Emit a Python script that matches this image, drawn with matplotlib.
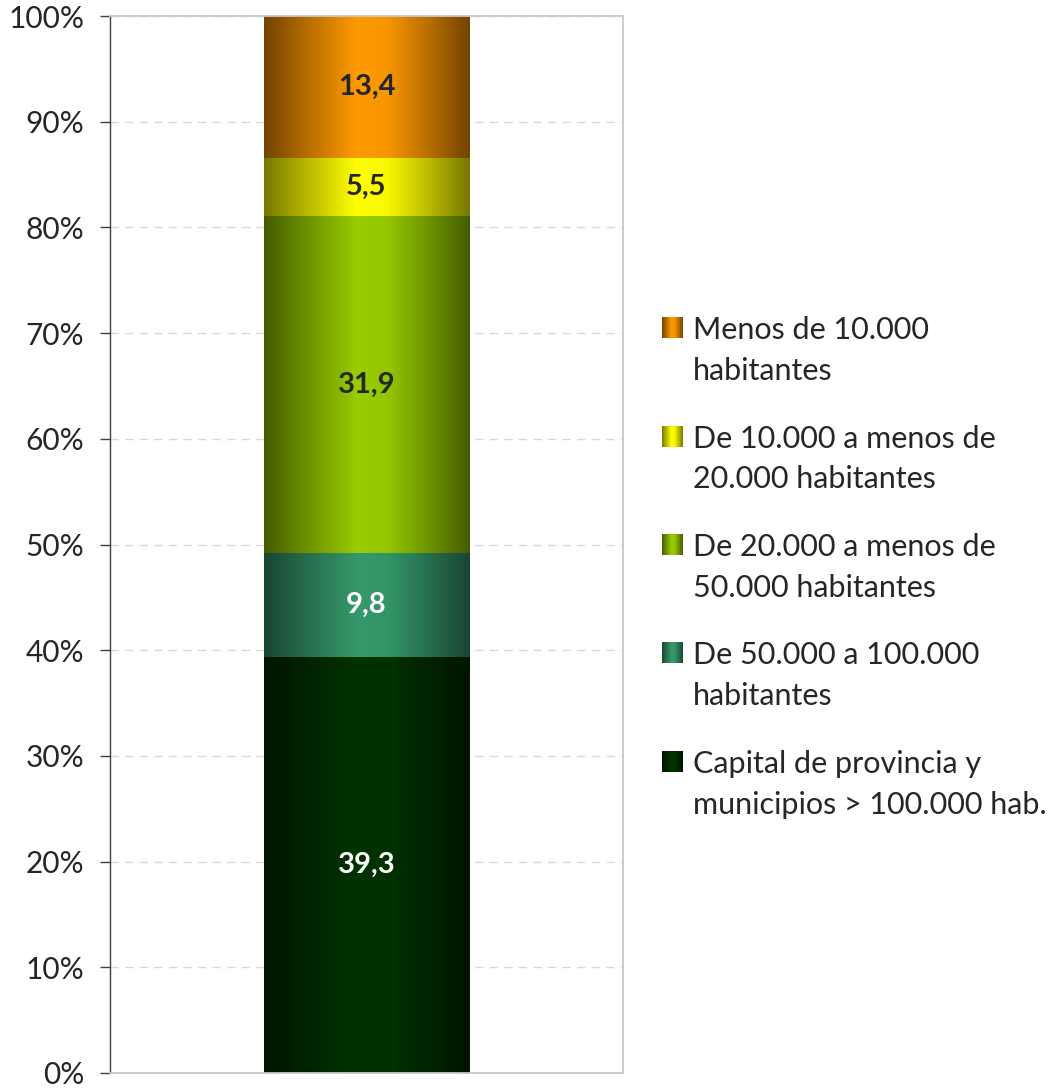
import numpy as np
import matplotlib
matplotlib.use("Agg")
import matplotlib.pyplot as plt
from matplotlib.colors import to_rgb
from matplotlib.ticker import FuncFormatter, FixedLocator

# ---------------- data ----------------
categories = [
    "Capital de provincia y\nmunicipios > 100.000 hab.",
    "De 50.000 a 100.000\nhabitantes",
    "De 20.000 a menos de\n50.000 habitantes",
    "De 10.000 a menos de\n20.000 habitantes",
    "Menos de 10.000\nhabitantes",
]
values = [39.3, 9.8, 31.9, 5.5, 13.4]
value_labels = ["39,3", "9,8", "31,9", "5,5", "13,4"]
y_ticks = [0.0, 0.1, 0.2, 0.3, 0.4, 0.5, 0.6, 0.7, 0.8, 0.9, 1.0]

# ---------------- styles ----------------
edge_colors = ["#001400", "#184632", "#445C00", "#777700", "#734300"]
center_colors = ["#003300", "#35996A", "#99CC00", "#FFFF00", "#FF9A00"]
label_colors = ["white", "white", "#262626", "#262626", "#262626"]
FONT = "Lato"
TEXT = "#262626"

plt.rcParams["font.family"] = [FONT, "DejaVu Sans"]

W, H = 1056, 1089
fig = plt.figure(figsize=(W / 100, H / 100), dpi=100)
ax = fig.add_axes([110 / W, 1 - 1073 / H, (623 - 110) / W, (1073 - 16) / H])

# gradient profile across the bar (0 = edge colour, 1 = centre colour)
prof_x = [0.0, 0.15, 0.45, 0.6, 0.8, 1.0]
prof_w = [0.0, 0.35, 1.0, 0.95, 0.5, 0.0]
tt = np.linspace(0, 1, 256)
ww = np.interp(tt, prof_x, prof_w)


def gradient(edge, center):
    e = np.array(to_rgb(edge))
    c = np.array(to_rgb(center))
    return e[None, :] * (1 - ww[:, None]) + c[None, :] * ww[:, None]


total = float(np.sum(values))
fracs = [v / total for v in values]
bottom = 0.0
for i, f in enumerate(fracs):
    bar = ax.bar(0, f, bottom=bottom, width=0.4, facecolor="none",
                 edgecolor="none", linewidth=0, zorder=3)[0]
    x0, y0, bw, bh = bar.get_x(), bar.get_y(), bar.get_width(), bar.get_height()
    img = gradient(edge_colors[i], center_colors[i])[None, :, :]
    im = ax.imshow(img, extent=(x0, x0 + bw, y0, y0 + bh), aspect="auto",
                   interpolation="bilinear", zorder=2)
    im.set_clip_path(bar)
    ax.text(0, y0 + bh / 2, value_labels[i], ha="center", va="center",
            fontsize=21, fontweight="bold", color=label_colors[i], zorder=4)
    bottom += f

ax.set_xlim(-0.5, 0.5)
ax.set_ylim(0, 1)
ax.set_aspect("auto")
ax.set_xticks([])
ax.yaxis.set_major_locator(FixedLocator(y_ticks))
ax.yaxis.set_major_formatter(FuncFormatter(lambda v, p: f"{v * 100:.0f}%"))
ax.tick_params(axis="y", direction="out", length=7.5, width=1, color="#404040",
               labelsize=21.5, labelcolor=TEXT, pad=11)
ax.grid(axis="y", color="#D9D9D9", linestyle=(0, (6, 4.5)), linewidth=1, zorder=0)
ax.set_axisbelow(True)
for side in ["top", "right", "bottom"]:
    ax.spines[side].set_color("#C8C8C8")
    ax.spines[side].set_linewidth(1.3)
ax.spines["left"].set_color("#404040")
ax.spines["left"].set_linewidth(1)

# ---------------- legend (drawn in its own axes, pixel units) ----------------
lax = fig.add_axes([640 / W, 1 - 830 / H, 416 / W, 550 / H])
lax.set_xlim(640, 1056)
lax.set_ylim(830, 280)
lax.axis("off")
legend_baselines = [340, 448.5, 557, 665, 774]
line_gap = 40
for k, i in enumerate(reversed(range(len(categories)))):
    yb = legend_baselines[k]
    yc = yb - 12
    g = gradient(edge_colors[i], center_colors[i])[None, :, :]
    lax.imshow(g, extent=(662, 683, yc + 10.5, yc - 10.5), aspect="auto",
               interpolation="bilinear")
    lax.text(693, yb + line_gap, categories[i], ha="left", va="baseline",
             fontsize=22, color=TEXT, linespacing=1.55)
lax.set_xlim(640, 1056)
lax.set_ylim(830, 280)

fig.savefig("out.png", dpi=100)
